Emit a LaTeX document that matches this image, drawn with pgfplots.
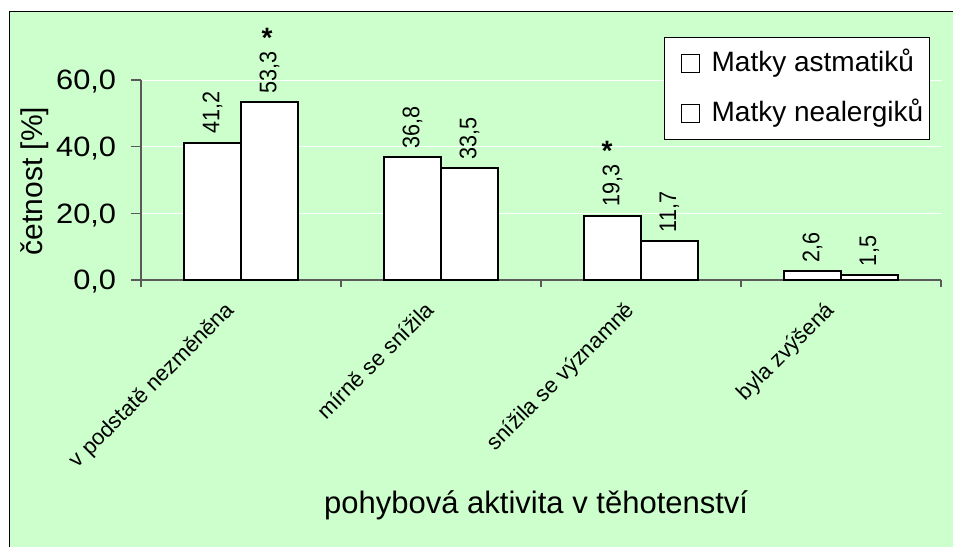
\documentclass[border=0pt]{standalone}
\usepackage{fontspec}
\setmainfont{Liberation Sans}
\usepackage{pgfplots}
\pgfplotsset{compat=1.18}
\definecolor{chartbg}{RGB}{204,255,204}
\definecolor{axisgray}{RGB}{90,90,90}
\newcommand\fs[1]{\fontsize{#1}{#1}\selectfont}

\begin{document}
\begin{tikzpicture}[x=1pt,y=1pt]
\useasboundingbox (0,0) rectangle (953,547);
% chart area background and frame
\fill[chartbg] (9,0) rectangle (953,535);
\draw[black, line width=1pt] (9,0) -- (9,535) -- (953,535);
\begin{axis}[
  at={(141pt,267pt)}, anchor=south west,
  scale only axis, width=800pt, height=200pt,
  xmin=-0.5, xmax=3.5, ymin=0, ymax=60,
  axis lines*=left,
  axis line style={axisgray, line width=1.2pt},
  ybar, bar width=57pt,
  ytick={0,20,40,60},
  yticklabels={{0,0},{20,0},{40,0},{60,0}},
  xtick={0,1,2,3},
  xticklabels={v podstatě nezměněna, mírně se snížila, snížila se významně, byla zvýšená},
  minor xtick={-0.5,0.5,1.5,2.5,3.5},
  major x tick style={draw=none},
  minor x tick style={axisgray, line width=1.2pt},
  ytick style={axisgray, line width=1.2pt},
  tick align=outside,
  major tick length=10pt, minor tick length=7pt,
  ymajorgrids, grid style={white, line width=1pt},
  yticklabel style={font=\fs{28}, xscale=1.1, anchor=east, xshift=-10pt, yshift=-2pt},
  xticklabel style={font=\fs{22}, xshift=-17pt, yshift=-5pt, rotate=45, anchor=north east},
  xlabel={pohybová aktivita v těhotenství},
  xlabel style={font=\fs{31}, at={(axis description cs:0.494,-1.125)}, anchor=center},
  point meta=explicit symbolic,
  nodes near coords,
  every node near coord/.append style={font=\fs{24}, rotate=90, xscale=0.9, anchor=west, inner xsep=9pt, black},
  legend style={at={(axis description cs:0.986,1.215)}, anchor=north east,
    fill=white, draw=black, line width=1pt, font=\fs{28},
    inner xsep=4pt, inner ysep=10pt, row sep=18pt,
    nodes={inner sep=2pt, text height=22pt, text depth=6pt}},
  legend cell align=left,
  legend image code/.code={%
    \path (-12pt,0pt) (27pt,0pt);
    \draw[black, fill=white, line width=1.2pt] (0pt,-9pt) rectangle (18pt,9pt);},
  clip=false,
]
\addplot[draw=black, fill=white, line width=2pt, bar shift=-28.5pt]
  coordinates {(0,41.2) [41,2] (1,36.8) [36,8] (2,19.3) [19,3] (3,2.6) [2,6]};
\addplot[draw=black, fill=white, line width=2pt, bar shift=28.5pt]
  coordinates {(0,53.3) [53,3] (1,33.5) [33,5] (2,11.7) [11,7] (3,1.5) [1,5]};
\legend{Matky astmatiků, Matky nealergiků}
% significance marks
\node[font=\fs{28}\bfseries, anchor=north, inner sep=0pt, xshift=26pt] at (axis cs:0,75.6) {*};
\node[font=\fs{28}\bfseries, anchor=north, inner sep=0pt, xshift=-34pt] at (axis cs:2,41.7) {*};
\end{axis}
% y axis title
\node[rotate=90, font=\fs{30}, anchor=center] at (35,366) {četnost [\%]};
\end{tikzpicture}
\end{document}
